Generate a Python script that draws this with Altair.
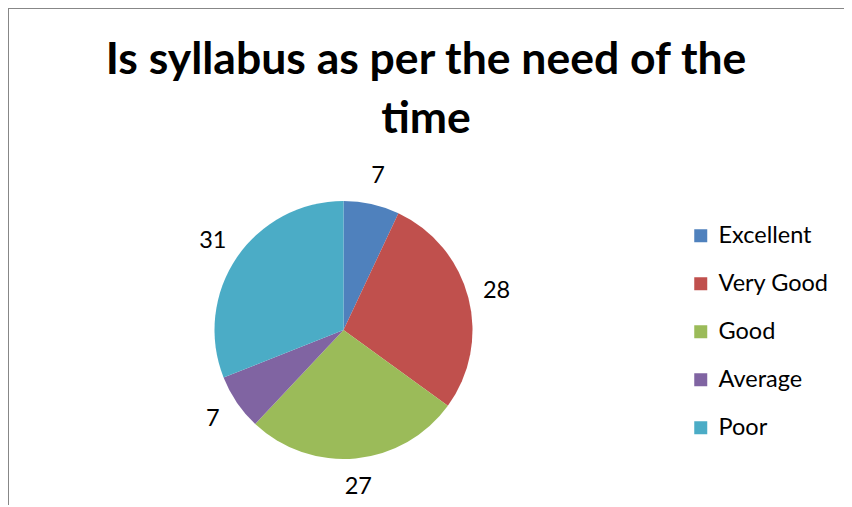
import altair as alt
import pandas as pd

categories = ["Excellent", "Very Good", "Good", "Average", "Poor"]
values = [7, 28, 27, 7, 31]
colors = ["#4F81BD", "#C0504D", "#9BBB59", "#8064A2", "#4BACC6"]
title_lines = ["Is syllabus as per the need of the", "time"]

df = pd.DataFrame({"category": categories, "value": values, "order": list(range(len(categories)))})

FONT = "Lato"
W, H = 836, 497
CX, CY = 335.5, 322
R = 129

base = alt.Chart(df).encode(
    theta=alt.Theta("value:Q", stack=True),
    order=alt.Order("order:Q"),
)

pie = base.mark_arc(outerRadius=R).encode(
    x=alt.value(CX),
    y=alt.value(CY),
    color=alt.Color(
        "category:N",
        scale=alt.Scale(domain=categories, range=colors),
        sort=categories,
        legend=alt.Legend(
            title=None,
            orient="none",
            legendX=681,
            legendY=216,
            symbolType="square",
            symbolSize=169,
            symbolStrokeWidth=0,
            labelFont=FONT,
            labelFontSize=23.5,
            labelColor="#000000",
            labelOffset=6,
            rowPadding=23,
            labelLimit=300,
        ),
    ),
)

labels = base.mark_text(radius=158, font=FONT, fontSize=23.5, color="#000000", baseline="middle", align="center").encode(
    x=alt.value(CX),
    y=alt.value(CY),
    text=alt.Text("value:Q"),
)

left_border = alt.Chart(df).mark_rule(color="#878787", strokeWidth=2).encode(
    x=alt.value(0), y=alt.value(0), y2=alt.value(H)
)
top_border = alt.Chart(df).mark_rule(color="#878787", strokeWidth=2).encode(
    y=alt.value(0), x=alt.value(0), x2=alt.value(W)
)

chart = (
    alt.layer(pie, labels, left_border, top_border)
    .properties(
        width=W,
        height=H,
        autosize=alt.AutoSizeParams(type="none"),
        padding={"left": 0, "top": 0, "right": 0, "bottom": 0},
        title=alt.TitleParams(
            text=title_lines,
            font=FONT,
            fontSize=44.5,
            fontWeight="bold",
            color="#000000",
            anchor="middle",
            frame="group",
            baseline="top",
            lineHeight=59,
            offset=-135,
        ),
    )
    .configure_view(stroke=None)
    .configure(background="#ffffff")
)

chart.save("out.html", embed_options={"renderer": "svg", "actions": False})
